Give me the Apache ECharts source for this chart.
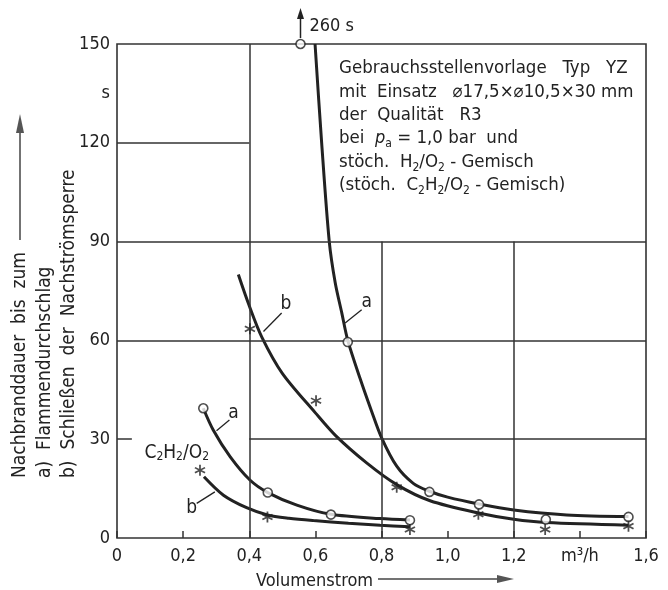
<!DOCTYPE html>
<html>
<head>
<meta charset="utf-8">
<script src="https://cdn.jsdelivr.net/npm/echarts@6/dist/echarts.min.js"></script>
<style>
  html, body { margin: 0; padding: 0; background: #fff; }
  #chart { width: 668px; height: 590px; }
</style>
</head>
<body>
<div id="chart"></div>
<script>
  // H2/O2 mixture, curve a (Flammendurchschlag) and b (Schließen der Nachströmsperre)
  const h2aCurve = [[0.599, 150], [0.619, 120], [0.642, 90], [0.660, 77.5], [0.680, 68.3], [0.698, 60], [0.735, 48.5],
    [0.770, 38.5], [0.80, 30.5], [0.846, 21.8], [0.896, 16.6], [0.945, 14.2], [1.0, 12.4],
    [1.095, 10.3], [1.2, 8.5], [1.36, 7.0], [1.547, 6.5]]
  const h2aPoints = [[0.698, 59.5], [0.945, 14.0], [1.095, 10.2], [1.297, 5.6], [1.547, 6.4]]
  const h2aOffScale = [[0.555, 260]]  // drawn at top edge with arrow
  const h2bCurve = [[0.367, 80.0], [0.40, 70.5], [0.438, 61], [0.50, 50], [0.60, 38], [0.662, 31], [0.755, 22.8],
    [0.846, 16.2], [0.947, 11.3], [1.093, 7.6], [1.2, 5.7], [1.3, 4.7], [1.547, 3.9]]
  const h2bPoints = [[0.402, 63.5], [0.602, 41.7], [0.846, 15.4], [1.093, 7.2], [1.295, 2.6], [1.547, 3.6]]

  // C2H2/O2 mixture
  const c2aCurve = [[0.261, 39.4], [0.291, 32.8], [0.342, 24.7], [0.402, 17.6], [0.456, 13.8], [0.544, 10.0],
    [0.647, 7.2], [0.796, 5.9], [0.886, 5.5]]
  const c2aPoints = [[0.261, 39.4], [0.456, 13.8], [0.647, 7.1], [0.886, 5.4]]
  const c2bCurve = [[0.263, 18.6], [0.322, 13.0], [0.392, 9.2], [0.455, 7.0], [0.52, 6.0], [0.594, 5.3],
    [0.70, 4.5], [0.796, 3.9], [0.886, 3.4]]
  const c2bPoints = [[0.251, 20.6], [0.455, 6.4], [0.886, 2.6]]

  // axis
  const xMax = 1.6
  const yMax = 150
  const yUnitAt = 135
  const xUnitAt = 1.4

  // partial grid of the drawing: [x1, y1, x2, y2]
  const gridSegments = [
    [0.4, 0, 0.4, 150], [0.8, 0, 0.8, 90], [1.2, 0, 1.2, 90],
    [0, 120, 0.4, 120], [0, 90, 1.6, 90], [0, 60, 1.6, 60],
    [0.4, 30, 1.6, 30], [0, 30, 0.045, 30]
  ]

  const FONT = "'DejaVu Sans Condensed', 'DejaVu Sans', sans-serif"
  const INK = '#222'
  const subRich = {
    s: { fontSize: 12, fontFamily: FONT, fill: INK, color: INK, verticalAlign: 'bottom', lineHeight: 16 },
    i: { fontSize: 18, fontFamily: FONT, fill: INK, color: INK, fontStyle: 'italic' }
  }

  // curve labels a / b with leader lines
  const notes = [
    { text: 'a', at: [0.755, 71.5], from: [0.740, 69.3], to: [0.690, 65.3] },
    { text: 'b', at: [0.511, 71.0], from: [0.498, 68.3], to: [0.443, 62.7] },
    { text: 'a', at: [0.352, 38.0], from: [0.340, 35.8], to: [0.301, 32.6] },
    { text: 'b', at: [0.226, 9.0], from: [0.241, 10.5], to: [0.296, 14.0] },
    { text: 'C{s|2}H{s|2}/O{s|2}', at: [0.083, 25.7], align: 'left' }
  ]

  const asterisk = 'path://M8.6 1 L11.4 1 L11.4 19 L8.6 19 Z M1.31 7.06 L2.71 4.64 L18.69 12.94 L17.29 15.36 Z M17.29 4.64 L18.69 7.06 L2.71 15.36 L1.31 12.94 Z'

  function fmtX(v) {
    if (Math.abs(v - xUnitAt) < 1e-6) return 'm³/h'
    if (v === 0) return '0'
    return v.toFixed(1).replace('.', ',')
  }
  function fmtY(v) {
    if (v === yUnitAt) return 's'
    return v % 30 === 0 ? String(v) : ''
  }

  function curve(name, data) {
    return {
      name: name, type: 'line', data: data, smooth: 0.3, symbol: 'none', z: 3,
      lineStyle: { color: INK, width: 3 }
    }
  }
  function circles(name, data) {
    return {
      name: name, type: 'scatter', data: data, symbol: 'circle', symbolSize: 9, z: 5,
      itemStyle: { color: '#fff', borderColor: INK, borderWidth: 1.6 }
    }
  }
  function stars(name, data) {
    return {
      name: name, type: 'scatter', data: data, symbol: asterisk, symbolSize: 11, z: 5,
      itemStyle: { color: INK }
    }
  }

  const chart = echarts.init(document.getElementById('chart'))
  chart.setOption({
    animation: false,
    backgroundColor: '#fff',
    textStyle: { fontFamily: FONT },
    grid: { left: 117, right: 22, top: 44, bottom: 52, show: true, borderColor: '#333', borderWidth: 1.6 },
    xAxis: {
      type: 'value', min: 0, max: xMax, interval: 0.2,
      axisLine: { show: false },
      splitLine: { show: false },
      axisTick: { show: true, inside: true, length: 7, lineStyle: { color: '#333', width: 1.5 } },
      axisLabel: { formatter: fmtX, color: INK, fontSize: 18, fontFamily: FONT, margin: 9 }
    },
    yAxis: {
      type: 'value', min: 0, max: yMax, interval: 15,
      axisLine: { show: false },
      splitLine: { show: false },
      axisTick: { show: false },
      axisLabel: { formatter: fmtY, color: INK, fontSize: 18, fontFamily: FONT, margin: 7 }
    },
    graphic: [
      {
        type: 'text', left: 339, top: 57, z: 10,
        style: {
          text: [
            'Gebrauchsstellenvorlage   Typ   YZ',
            'mit  Einsatz   ⌀17,5×⌀10,5×30 mm',
            'der  Qualität   R3',
            'bei  {i|p}{s|a} = 1,0 bar  und',
            'stöch.  H{s|2}/O{s|2} - Gemisch',
            '(stöch.  C{s|2}H{s|2}/O{s|2} - Gemisch)'
          ].join('\n'),
          font: '18.5px ' + FONT, fill: INK, lineHeight: 23.3, rich: subRich
        }
      },
      // y axis title
      {
        type: 'text', x: 20, y: 478, rotation: Math.PI / 2,
        style: { text: 'Nachbranddauer  bis  zum', font: '19px ' + FONT, fill: INK, align: 'left', verticalAlign: 'middle' }
      },
      {
        type: 'text', x: 45, y: 478, rotation: Math.PI / 2,
        style: { text: 'a)  Flammendurchschlag', font: '19px ' + FONT, fill: INK, align: 'left', verticalAlign: 'middle' }
      },
      {
        type: 'text', x: 69, y: 478, rotation: Math.PI / 2,
        style: { text: 'b)  Schließen  der  Nachströmsperre', font: '19px ' + FONT, fill: INK, align: 'left', verticalAlign: 'middle' }
      },
      { type: 'line', shape: { x1: 20, y1: 240, x2: 20, y2: 130 }, style: { stroke: '#444', lineWidth: 1.5 } },
      { type: 'polygon', shape: { points: [[20, 114], [16, 133], [24, 133]] }, style: { fill: '#555' } },
      // x axis title
      {
        type: 'text', x: 256, y: 581,
        style: { text: 'Volumenstrom', font: '18px ' + FONT, fill: INK, align: 'left', verticalAlign: 'middle' }
      },
      { type: 'line', shape: { x1: 378, y1: 579, x2: 500, y2: 579 }, style: { stroke: '#444', lineWidth: 1.5 } },
      { type: 'polygon', shape: { points: [[514, 579], [497, 575], [497, 583]] }, style: { fill: '#555' } }
    ],
    series: [
      {
        name: 'grid', type: 'line', data: [], silent: true,
        markLine: {
          silent: true, symbol: 'none', animation: false,
          label: { show: false },
          lineStyle: { color: '#333', width: 1.5, type: 'solid' },
          data: gridSegments.map(s => [{ coord: [s[0], s[1]] }, { coord: [s[2], s[3]] }])
        }
      },
      curve('H2 a', h2aCurve),
      curve('H2 b', h2bCurve),
      curve('C2H2 a', c2aCurve),
      curve('C2H2 b', c2bCurve),
      circles('H2 a Messpunkte', h2aPoints),
      circles('H2 a außerhalb', h2aOffScale.map(p => [p[0], Math.min(p[1], yMax)])),
      stars('H2 b Messpunkte', h2bPoints),
      circles('C2H2 a Messpunkte', c2aPoints),
      stars('C2H2 b Messpunkte', c2bPoints),
      {
        name: 'off scale', type: 'custom', z: 6, clip: false,
        data: h2aOffScale.map(p => [p[0], Math.min(p[1], yMax)]),
        renderItem: function (params, api) {
          const c = api.coord([api.value(0), api.value(1)])
          const v = h2aOffScale[params.dataIndex][1]
          return {
            type: 'group',
            children: [
              { type: 'line', shape: { x1: c[0], y1: c[1] - 6, x2: c[0], y2: c[1] - 27 }, style: { stroke: INK, lineWidth: 1.5 } },
              { type: 'polygon', shape: { points: [[c[0], c[1] - 36], [c[0] - 3.5, c[1] - 25], [c[0] + 3.5, c[1] - 25]] }, style: { fill: INK } },
              { type: 'text', x: c[0] + 9, y: c[1] - 18, style: { text: v + ' s', font: '18px ' + FONT, fill: INK, align: 'left', verticalAlign: 'middle' } }
            ]
          }
        }
      },
      {
        name: 'notes', type: 'custom', z: 6, clip: false,
        data: notes.map(n => n.at),
        renderItem: function (params, api) {
          const n = notes[params.dataIndex]
          const children = []
          if (n.from) {
            const a = api.coord(n.from)
            const b = api.coord(n.to)
            children.push({ type: 'line', shape: { x1: a[0], y1: a[1], x2: b[0], y2: b[1] }, style: { stroke: INK, lineWidth: 1.3 } })
          }
          const t = api.coord(n.at)
          children.push({
            type: 'text', x: t[0], y: t[1],
            style: { text: n.text, font: '19px ' + FONT, fill: INK, align: n.align || 'center', verticalAlign: 'middle', rich: subRich }
          })
          return { type: 'group', children: children }
        }
      }
    ]
  })
</script>
</body>
</html>
